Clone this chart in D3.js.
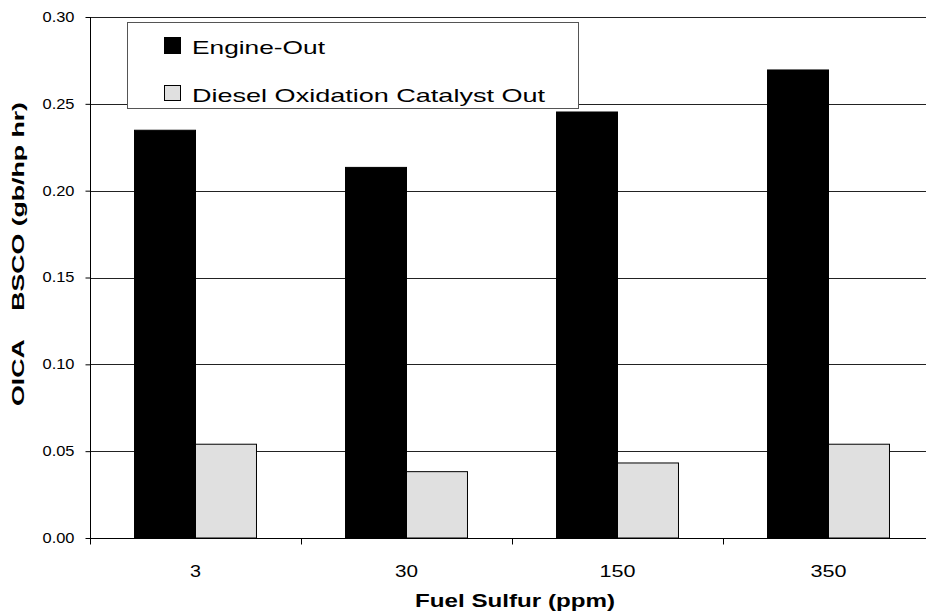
<!DOCTYPE html>
<html>
<head>
<meta charset="utf-8">
<script src="https://cdn.jsdelivr.net/npm/d3@7"></script>
<style>
  body { margin: 0; background: #fff; }
  svg { display: block; font-family: "Liberation Sans", Arial, sans-serif; }
  text { white-space: pre; }
</style>
</head>
<body>
<svg id="chart" width="926" height="613"></svg>
<script>
const categories = ["3", "30", "150", "350"];
const seriesNames = ["Engine-Out", "Diesel Oxidation Catalyst Out"];
const engineOut = [0.2348, 0.2134, 0.2453, 0.2695];
const docOut = [0.0540, 0.0382, 0.0432, 0.0540];
const yTicks = [0.00, 0.05, 0.10, 0.15, 0.20, 0.25, 0.30];
const xTitle = "Fuel Sulfur (ppm)";
const yTitle = "OICA    BSCO (gb/hp hr)";

(function () {
const colors = ["#000000", "#e0e0e0"];
const series = [engineOut, docOut];

const svg = d3.select("#chart");
const pLeft = 90, pRight = 934, pTop = 17, pBottom = 538;

const x0 = d3.scaleBand().domain(categories).range([pLeft, pRight]).padding(0);
const x1 = d3.scaleBand().domain(d3.range(series.length)).range([0, x0.bandwidth()])
  .paddingInner(0).paddingOuter(0.73);
const y = d3.scaleLinear().domain([0, 0.30]).range([pBottom, pTop]);

function fit(sel, w) {
  sel.attr("textLength", w).attr("lengthAdjust", "spacingAndGlyphs");
}

// gridlines
svg.append("g").selectAll("line").data(yTicks.filter(d => d > 0)).join("line")
  .attr("x1", pLeft).attr("x2", pRight)
  .attr("y1", d => Math.round(y(d)) + 0.5).attr("y2", d => Math.round(y(d)) + 0.5)
  .attr("stroke", "#222").attr("stroke-width", 1);

// bars
const g = svg.append("g");
categories.forEach((c, ci) => {
  series.forEach((s, si) => {
    g.append("rect")
      .attr("x", x0(c) + x1(si))
      .attr("y", y(s[ci]))
      .attr("width", x1.bandwidth())
      .attr("height", pBottom - y(s[ci]))
      .attr("fill", colors[si])
      .attr("stroke", "#000")
      .attr("stroke-width", 1);
  });
});

// y axis
const yAxis = d3.axisLeft(y).tickValues(yTicks).tickFormat(d3.format(".2f")).tickSize(5).tickPadding(11);
const ya = svg.append("g").attr("transform", `translate(${pLeft + 0.5},0)`).call(yAxis);
ya.select(".domain").attr("stroke", "#000").attr("d", `M0,${pTop}V${pBottom}`);
ya.selectAll(".tick line").attr("stroke", "#000");
ya.selectAll(".tick text").attr("font-size", 14).attr("fill", "#000")
  .attr("font-family", "Liberation Sans, Arial, sans-serif").each(function() { fit(d3.select(this), 32); });

// x axis
const xa = svg.append("g").attr("transform", `translate(0,${pBottom + 0.5})`);
xa.append("line").attr("x1", pLeft).attr("x2", pRight).attr("y1", 0).attr("y2", 0).attr("stroke", "#000");
xa.selectAll("line.tk").data(categories.map((c) => x0(c)).concat([pRight])).join("line")
  .attr("class", "tk")
  .attr("x1", d => Math.round(d) + 0.5).attr("x2", d => Math.round(d) + 0.5)
  .attr("y1", 0).attr("y2", 6).attr("stroke", "#000");
const xLabelW = { "3": 11, "30": 23, "150": 36, "350": 36 };
xa.selectAll("text").data(categories).join("text")
  .attr("x", d => x0(d) + x0.bandwidth() / 2)
  .attr("y", 38)
  .attr("text-anchor", "middle")
  .attr("font-size", 16)
  .attr("fill", "#000")
  .text(d => d)
  .each(function(d) { fit(d3.select(this), xLabelW[d]); });

// axis titles
svg.append("text")
  .attr("x", 515).attr("y", 607)
  .attr("text-anchor", "middle")
  .attr("font-size", 18).attr("font-weight", "bold")
  .text(xTitle)
  .call(fit, 200);

svg.append("text")
  .attr("transform", `translate(24,254) rotate(-90)`)
  .attr("text-anchor", "middle")
  .attr("font-size", 16).attr("font-weight", "bold")
  .text(yTitle)
  .call(fit, 304);

// legend
const lg = svg.append("g");
lg.append("rect").attr("x", 127.5).attr("y", 22.5).attr("width", 451).attr("height", 86)
  .attr("fill", "#fff").attr("stroke", "#555").attr("stroke-width", 1);
const legW = [133, 353];
seriesNames.forEach((name, i) => {
  const yy = 37 + i * 48;
  lg.append("rect").attr("x", 164.5).attr("y", yy + 0.5).attr("width", 16).attr("height", i ? 15 : 16)
    .attr("fill", colors[i]).attr("stroke", "#000").attr("stroke-width", 1);
  lg.append("text").attr("x", 192).attr("y", yy + 17)
    .attr("font-size", 19).attr("fill", "#000")
    .text(name)
    .call(fit, legW[i]);
});
})();
</script>
</body>
</html>
